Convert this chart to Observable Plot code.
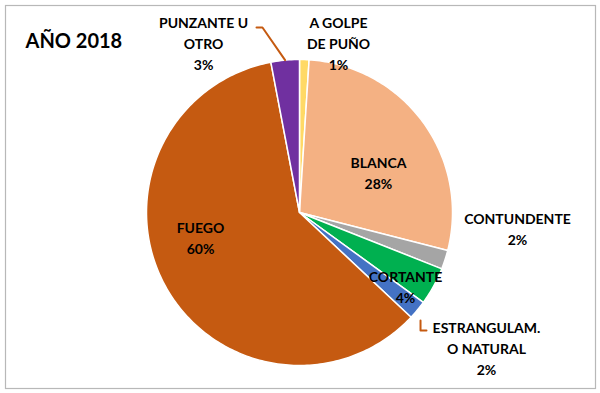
<!DOCTYPE html>
<html><head><meta charset="utf-8">
<script src="https://cdn.jsdelivr.net/npm/d3@7"></script>
<script src="https://cdn.jsdelivr.net/npm/@observablehq/plot@0.6"></script>
<style>body{margin:0;background:#fff}</style>
</head><body><div id="chart"></div>
<script>
// ---- data ----
const categories = ["A GOLPE DE PUÑO", "BLANCA", "CONTUNDENTE", "CORTANTE", "ESTRANGULAM. O NATURAL", "FUEGO", "PUNZANTE U OTRO"];
const labelTexts = ["A GOLPE\nDE PUÑO", "BLANCA", "CONTUNDENTE", "CORTANTE", "ESTRANGULAM.\nO NATURAL", "FUEGO", "PUNZANTE U\nOTRO"];
const values = [1, 28, 2, 4, 2, 60, 3];
const colors = ["#ffd966", "#f4b183", "#a5a5a5", "#00b050", "#4472c4", "#c55a11", "#7030a0"];
const title = "AÑO 2018";

// ---- layout (unit-circle space) ----
const W = 600, H = 393, cx = 299, cy = 212, R = 153;
const labelPos = [[0.255, 1.111], [0.516, 0.268], [1.425, -0.098], [0.693, -0.477], [1.222, -0.882], [-0.647, -0.157], [-0.627, 1.111]];

const total = d3.sum(values);
let acc = 0;
const slices = values.map((v, i) => {
  const a0 = acc / total * 2 * Math.PI; acc += v;
  const a1 = acc / total * 2 * Math.PI;
  return {cat: categories[i], a0, a1, v, i};
});
const polys = [];
for (const s of slices) {
  polys.push({cat: s.cat, x: 0, y: 0});
  const n = Math.max(2, Math.ceil((s.a1 - s.a0) / (Math.PI / 180)));
  for (let k = 0; k <= n; k++) {
    const a = s.a0 + (s.a1 - s.a0) * k / n;
    polys.push({cat: s.cat, x: Math.sin(a), y: Math.cos(a)});
  }
}
const labels = slices.map(s => ({x: labelPos[s.i][0], y: labelPos[s.i][1], text: labelTexts[s.i] + "\n" + s.v + "%"}));

const pz = slices[6], pm = (pz.a0 + pz.a1) / 2;
const leaders = [
  {id: "p", x: Math.sin(pm), y: Math.cos(pm)},
  {id: "p", x: -0.242, y: 1.209},
  {id: "p", x: -0.281, y: 1.209},
  {id: "e", x: 0.791, y: -0.706},
  {id: "e", x: 0.791, y: -0.771},
  {id: "e", x: 0.830, y: -0.771}
];

const chart = Plot.plot({
  width: W, height: H, margin: 0,
  style: {background: "#fff", fontFamily: "Lato, 'Open Sans', sans-serif"},
  x: {domain: [-cx / R, (W - cx) / R], axis: null},
  y: {domain: [(cy - H) / R, cy / R], axis: null},
  color: {domain: categories, range: colors},
  marks: [
    Plot.frame({stroke: "#b8b8b8", strokeWidth: 1.2, inset: 5}),
    Plot.line(polys, {x: "x", y: "y", z: "cat", fill: "cat", stroke: "white", strokeWidth: 1.5, curve: "linear-closed"}),
    Plot.line(leaders, {x: "x", y: "y", z: "id", stroke: "#c55a11", strokeWidth: 2}),
    Plot.text(labels, {x: "x", y: "y", text: "text", fontSize: 14, fontWeight: "bold", fontFamily: "Lato", lineHeight: 1.5, fill: "#000", textAnchor: "middle"}),
    Plot.text([title], {frameAnchor: "top-left", dx: 25, dy: 33, text: d => d, fontSize: 20, fontWeight: "bold", fontFamily: "Lato", textAnchor: "start", fill: "#000"})
  ]
});
document.getElementById("chart").appendChild(chart);
</script>
</body></html>
